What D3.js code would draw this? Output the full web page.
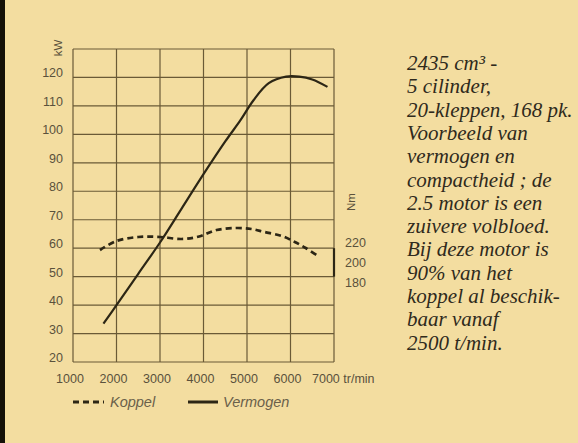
<!DOCTYPE html>
<html><head><meta charset="utf-8">
<script src="https://cdn.jsdelivr.net/npm/d3@7"></script>
<style>body{margin:0;background:#f3dda0}svg{display:block}</style>
</head><body>
<svg id="c" width="578" height="443"></svg>
<script>
// ---- data ----
const rpmTicks = [1000, 2000, 3000, 4000, 5000, 6000, 7000];
const kwTicks = [20, 30, 40, 50, 60, 70, 80, 90, 100, 110, 120];
const nmTicks = [220, 200, 180];
const powerRpm = [1700, 2000, 2500, 3000, 3500, 4000, 4500, 4850, 5150, 5500, 5900, 6200, 6500, 6850];
const powerKw  = [33.5, 40, 51, 62, 74, 86, 97.5, 105, 112, 118, 120.3, 120.3, 119.3, 116.7];
const torqueRpm = [1620, 2000, 2500, 3000, 3500, 3900, 4300, 4750, 5100, 5400, 5800, 6100, 6350, 6600];
const torqueNm  = [213, 222, 226, 226, 224, 226.5, 233, 235, 234, 231, 227, 221, 215, 208];
const descLines = ["2435 cm³ -", "5 cilinder,", "20-kleppen, 168 pk.", "Voorbeeld van", "vermogen en",
  "compactheid ; de", "2.5 motor is een", "zuivere volbloed.", "Bij deze motor is", "90% van het",
  "koppel al beschik-", "baar vanaf", "2500 t/min."];
const legendItems = [{label: "Koppel", dash: "6,4"}, {label: "Vermogen", dash: null}];

// ---- drawing ----
const svg = d3.select("#c");
const ink = "#2c2615", grid = "#6a5a36", lab = "#5a513c";
svg.append("rect").attr("width", 578).attr("height", 443).attr("fill", "#f3dda0");
svg.append("rect").attr("x", 0).attr("y", 0).attr("width", 5).attr("height", 443).attr("fill", "#141108");

const x = d3.scaleLinear().domain([1000, 7000]).range([73, 334]);
const y = d3.scaleLinear().domain([20, 130]).range([362, 49]);
const yNm = d3.scaleLinear().domain([180, 220]).range([283, 243]);

const g = svg.append("g");
// grid
g.selectAll(".hg").data(kwTicks.concat([130])).enter().append("line")
  .attr("x1", x(1000)).attr("x2", x(7000)).attr("y1", d => y(d)).attr("y2", d => y(d))
  .attr("stroke", grid).attr("stroke-width", 1.2);
g.selectAll(".vg").data(rpmTicks).enter().append("line")
  .attr("y1", y(20)).attr("y2", y(130)).attr("x1", d => x(d)).attr("x2", d => x(d))
  .attr("stroke", grid).attr("stroke-width", 1.2);
// torque-scale bracket
g.append("line").attr("x1", x(7000)).attr("x2", x(7000)).attr("y1", y(60)).attr("y2", y(50))
  .attr("stroke", ink).attr("stroke-width", 2.2);

const font = "'Liberation Sans', Arial, sans-serif";
// left labels
g.selectAll(".yl").data(kwTicks).enter().append("text")
  .attr("x", x(1000) - 10).attr("y", d => y(d)).attr("text-anchor", "end")
  .attr("font-family", font).attr("font-size", 12.5).attr("fill", lab).text(d => d);
// x labels
g.selectAll(".xl").data(rpmTicks).enter().append("text")
  .attr("x", d => d === 7000 ? x(d) - 22 : x(d) - 3).attr("y", 383)
  .attr("text-anchor", d => d === 7000 ? "start" : "middle")
  .attr("font-family", font).attr("font-size", 12.5).attr("fill", lab)
  .text(d => d === 7000 ? d + " tr/min" : d);
// right labels
g.selectAll(".nl").data(nmTicks).enter().append("text")
  .attr("x", 345).attr("y", d => yNm(d)).attr("dy", "0.35em")
  .attr("font-family", font).attr("font-size", 12.5).attr("fill", lab).text(d => d);
// unit labels
g.append("text").attr("transform", "translate(62,48) rotate(-90)").attr("text-anchor", "middle")
  .attr("font-family", font).attr("font-size", 11.5).attr("fill", lab).text("kW");
g.append("text").attr("transform", "translate(355,202) rotate(-90)").attr("text-anchor", "middle")
  .attr("font-family", font).attr("font-size", 11.5).attr("fill", lab).text("Nm");

// curves
const power = powerRpm.map((r, i) => [x(r), y(powerKw[i])]);
const torque = torqueRpm.map((r, i) => [x(r), yNm(torqueNm[i])]);
const line = d3.line().curve(d3.curveCatmullRom.alpha(0.5));
g.append("path").attr("d", line(torque)).attr("fill", "none").attr("stroke", ink)
  .attr("stroke-width", 2.7).attr("stroke-dasharray", "6,4");
g.append("path").attr("d", line(power)).attr("fill", "none").attr("stroke", ink)
  .attr("stroke-width", 2.2);

// legend
const lx = [73, 188];
legendItems.forEach((it, i) => {
  const l = g.append("line").attr("x1", lx[i]).attr("x2", lx[i] + 30).attr("y1", 402).attr("y2", 402)
    .attr("stroke", ink).attr("stroke-width", 3);
  if (it.dash) l.attr("stroke-dasharray", it.dash).attr("x2", lx[i] + 31);
  g.append("text").attr("x", lx[i] + (i === 0 ? 37 : 35)).attr("y", 407)
    .attr("font-family", font).attr("font-style", "italic").attr("font-size", 14.5)
    .attr("fill", "#6a604a").text(it.label);
});

// description
g.selectAll(".desc").data(descLines).enter().append("text")
  .attr("x", 407).attr("y", (d, i) => 70 + i * 23.3)
  .attr("font-family", "'Liberation Serif', 'Times New Roman', serif").attr("font-style", "italic")
  .attr("font-size", 21).attr("fill", "#2f2a1c").text(d => d);
</script>
</body></html>
